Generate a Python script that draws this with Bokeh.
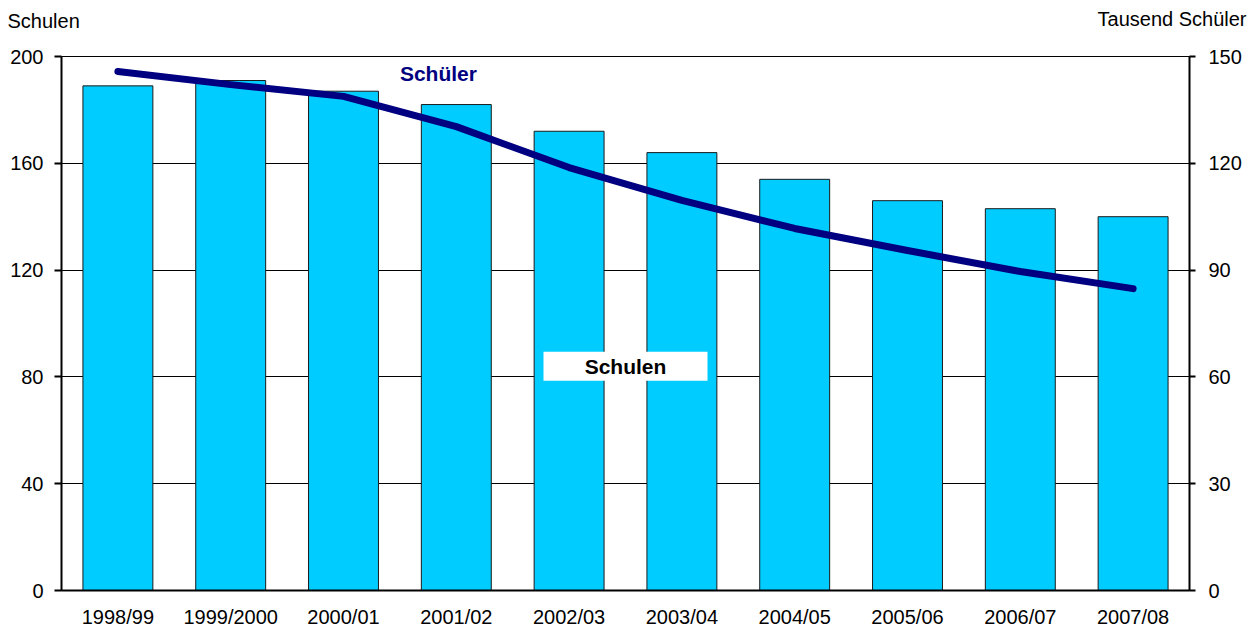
from bokeh.plotting import figure
from bokeh.layouts import column, row
from bokeh.models import Range1d, LinearAxis, FactorRange, Label, ColumnDataSource, FixedTicker
from bokeh.embed import file_html
from bokeh.resources import INLINE

years = ["1998/99", "1999/2000", "2000/01", "2001/02", "2002/03",
         "2003/04", "2004/05", "2005/06", "2006/07", "2007/08"]
schulen = [189, 191, 187, 182, 172, 164, 154, 146, 143, 140]
schueler = [145.8, 142.1, 138.8, 130.3, 118.8, 109.6, 101.7, 95.5, 89.6, 84.8]
left_ticks = [0, 40, 80, 120, 160, 200]
right_ticks = [0, 30, 60, 90, 120, 150]

FONT = "Liberation Sans"
W = 1260
HEAD_H = 44


def header(width, text, x, y, align):
    h = figure(width=width, height=HEAD_H, x_range=Range1d(0, width),
               y_range=Range1d(0, HEAD_H), output_backend="svg",
               toolbar_location=None, x_axis_type=None, y_axis_type=None,
               min_border=0, min_border_left=0, min_border_right=0,
               min_border_top=0, min_border_bottom=0)
    h.outline_line_color = None
    h.grid.visible = False
    h.add_layout(Label(x=x, y=y, text=text, text_align=align,
                       text_baseline="alphabetic", text_font=FONT,
                       text_font_size="20px", text_color="black"))
    return h


head_l = header(W // 2, "Schulen", 7, HEAD_H - 20, "left")
head_r = header(W // 2, "Tausend Schüler", 1246 - W // 2, HEAD_H - 18, "right")

src = ColumnDataSource(dict(year=years, schulen=schulen, schueler=schueler))

p = figure(width=W, height=630 - HEAD_H,
           x_range=FactorRange(factors=years, range_padding=0),
           y_range=Range1d(0, 200),
           output_backend="svg", toolbar_location=None,
           min_border_left=61, min_border_right=71,
           min_border_top=56 - HEAD_H, min_border_bottom=39)
p.extra_y_ranges = {"r": Range1d(0, 150)}

p.outline_line_color = "black"
p.outline_line_width = 1
p.xgrid.visible = False
p.ygrid.ticker = FixedTicker(ticks=left_ticks)
p.ygrid.grid_line_color = "black"
p.ygrid.grid_line_width = 1

p.vbar(x="year", top="schulen", bottom=0, width=0.62, source=src,
       fill_color="#00CCFF", line_color="#1a1a1a", line_width=1)
p.line(x="year", y="schueler", y_range_name="r", source=src,
       line_color="#000080", line_width=7, line_cap="round", line_join="round")

ya = p.yaxis[0]
ya.ticker = FixedTicker(ticks=left_ticks)
ya.axis_line_width = 2
ya.axis_line_color = "black"
ya.major_tick_line_width = 2
ya.major_tick_out = 7
ya.major_tick_in = 0
ya.minor_tick_line_color = None
ya.major_label_standoff = 11
ya.major_label_text_font = FONT
ya.major_label_text_font_size = "20px"
ya.major_label_text_color = "black"

ra = LinearAxis(y_range_name="r", ticker=FixedTicker(ticks=right_ticks))
ra.axis_line_width = 2
ra.axis_line_color = "black"
ra.major_tick_line_width = 2
ra.major_tick_out = 6
ra.major_tick_in = 0
ra.minor_tick_line_color = None
ra.major_label_standoff = 13
ra.major_label_text_font = FONT
ra.major_label_text_font_size = "20px"
ra.major_label_text_color = "black"
p.add_layout(ra, "right")

xa = p.xaxis[0]
xa.axis_line_width = 2
xa.axis_line_color = "black"
xa.major_tick_out = 0
xa.major_tick_in = 0
xa.major_tick_line_color = None
xa.minor_tick_line_color = None
xa.major_label_standoff = 15
xa.major_label_text_font = FONT
xa.major_label_text_font_size = "20px"
xa.major_label_text_color = "black"

p.add_layout(Label(x=3.0, y=193.6, text="Schüler", text_align="left",
                   text_baseline="middle", text_font=FONT, text_font_style="bold",
                   text_font_size="21px", text_color="#000080"))
p.rect(x=[5.0], y=[84], width=164, height=29, width_units="screen",
       height_units="screen", fill_color="white", line_color=None)
p.add_layout(Label(x=5.0, y=84, text="Schulen", text_align="center",
                   text_baseline="middle", text_font=FONT, text_font_style="bold",
                   text_font_size="21px", text_color="black"))

layout = column(row(head_l, head_r, spacing=0), p, spacing=0)
open("out.html", "w").write(file_html(layout, INLINE))
